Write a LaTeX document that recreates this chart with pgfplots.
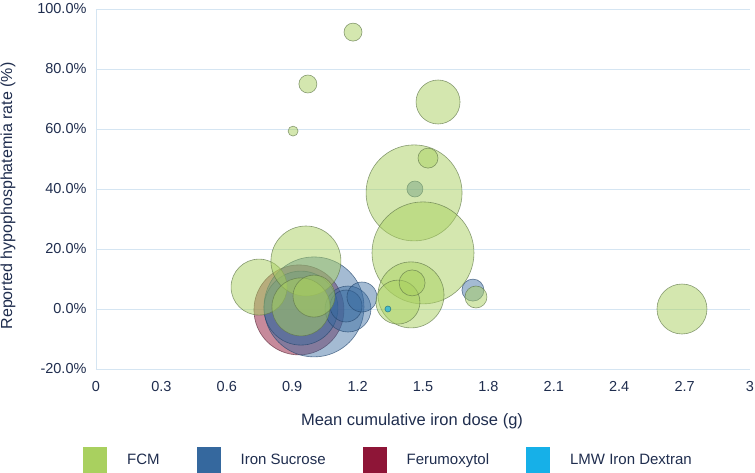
\documentclass[border=0pt]{standalone}
\usepackage{pgfplots}
\pgfplotsset{compat=1.18}
\usepackage{fontspec}
\setmainfont{Liberation Sans}
\definecolor{txt}{HTML}{1F2D4E}
\definecolor{gridc}{HTML}{D5E5F2}
\definecolor{zeroc}{HTML}{9CC3E0}
\definecolor{fcm}{HTML}{A9D05F}
\definecolor{fcmE}{HTML}{5E7548}
\definecolor{isc}{HTML}{35689E}
\definecolor{iscE}{HTML}{24466C}
\definecolor{fer}{HTML}{8E1537}
\definecolor{ferE}{HTML}{5A2A3A}
\definecolor{lmw}{HTML}{16B0E8}
\definecolor{lmwE}{HTML}{1F6F80}
\begin{document}
\begin{tikzpicture}
\begin{axis}[
  scale only axis, width=654pt, height=360pt,
  xmin=0, xmax=3, ymin=-20, ymax=100,
  /pgf/number format/assume math mode=true,
  xtick={0,0.3,0.6,0.9,1.2,1.5,1.8,2.1,2.4,2.7,3},
  xticklabels={0,0.3,0.6,0.9,1.2,1.5,1.8,2.1,2.4,2.7,3},
  ytick={-20,0,20,40,60,80,100},
  yticklabels={-20.0\%,0.0\%,20.0\%,40.0\%,60.0\%,80.0\%,100.0\%},
  extra y ticks={0}, extra y tick labels={},
  extra y tick style={grid style={color=zeroc, line width=0.7pt}},
  major tick length=0pt,
  ymajorgrids, major grid style={color=gridc, line width=0.7pt},
  axis x line*=bottom, axis y line*=left,
  axis line style={color=gridc, line width=0.7pt, -},
  tick label style={font=\fontsize{14.5}{16}\selectfont, text=txt},
  yticklabel style={xshift=-6pt},
  xticklabel style={yshift=-9pt},
  every axis x label/.style={at={(axis description cs:0.5,0)}, xshift=-11pt, yshift=-52pt, anchor=center, font=\fontsize{16.5}{18}\selectfont, text=txt},
  every axis y label/.style={at={(axis description cs:0,0.5)}, xshift=-88pt, yshift=-7pt, rotate=90, anchor=center, font=\fontsize{16}{18}\selectfont, text=txt},
  xlabel={Mean cumulative iron dose (g)},
  ylabel={Reported hypophosphatemia rate (\%)},
  legend image code/.code={\fill[#1] (0pt,-13pt) rectangle (24pt,13pt); \path (44pt,0pt);},
  legend style={at={(axis description cs:0.4457,-0.2528)}, anchor=center, draw=none, fill=none,
    legend columns=4, font=\fontsize{15}{17}\selectfont, text=txt,
    nodes={inner sep=0pt},
    /tikz/every even column/.append style={column sep=37pt}},
  bubble/.style={scatter, only marks, mark=*, forget plot,
    visualization depends on={\thisrow{r} \as \bubrad},
    scatter/@pre marker code/.append style={/tikz/mark size=\bubrad pt}},
]
\addlegendimage{fill=fcm, draw=none}
\addlegendentry{FCM}
\addlegendimage{fill=isc, draw=none}
\addlegendentry{Iron Sucrose}
\addlegendimage{fill=fer, draw=none}
\addlegendentry{Ferumoxytol}
\addlegendimage{fill=lmw, draw=none}
\addlegendentry{LMW Iron Dextran}

% Ferumoxytol
\addplot[scatter/use mapped color={draw=ferE, fill=fer, fill opacity=0.5, draw opacity=0.7, line width=0.6pt}, bubble]
table {
x y r
0.931 -0.3 45
};
% Iron Sucrose
\addplot[scatter/use mapped color={draw=iscE, fill=isc, fill opacity=0.45, draw opacity=0.7, line width=0.6pt}, bubble]
table {
x y r
1.000 0.7 50
0.940 0.3 37
1.156 0.0 23
1.147 1.0 16
1.220 4.0 15
1.463 40.0 8
1.729 6.3 11
};
% FCM
\addplot[scatter/use mapped color={draw=fcmE, fill=fcm, fill opacity=0.5, draw opacity=0.7, line width=0.6pt}, bubble]
table {
x y r
1.459 38.7 48
1.500 18.7 51
1.445 4.7 33
1.385 2.3 22
1.450 8.7 13
1.569 69.0 22
1.523 50.3 10
1.179 92.3 9
0.972 75.0 9
0.904 59.3 5
1.743 4.0 11
2.688 0.0 25
0.748 7.3 28
0.963 16.0 35
0.940 0.7 29
1.000 4.3 21
};
% LMW Iron Dextran
\addplot[scatter/use mapped color={draw=lmwE, fill=lmw, fill opacity=0.7, draw opacity=0.8, line width=0.6pt}, bubble]
table {
x y r
1.339 0.0 3
};
\end{axis}
\pgfresetboundingbox
\path (-96pt,-103pt) rectangle (659pt,369pt);
\end{tikzpicture}
\end{document}
